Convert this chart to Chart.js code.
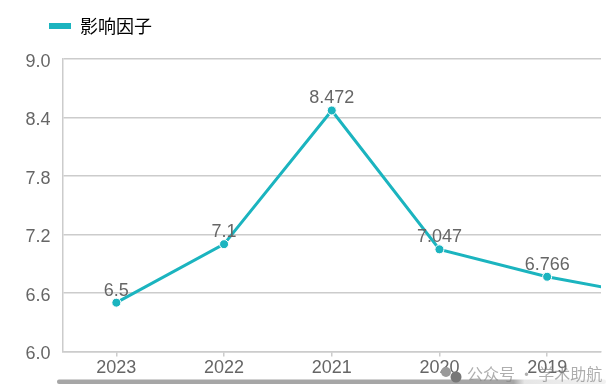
<!DOCTYPE html>
<html>
<head>
<meta charset="utf-8">
<script src="https://cdn.jsdelivr.net/npm/chart.js@4/dist/chart.umd.min.js"></script>
<style>
html, body { margin: 0; padding: 0; background: #fff; }
#box { width: 614px; height: 390px; position: relative; }
</style>
</head>
<body>
<div id="box"><canvas id="chart"></canvas></div>
<script>
const years = ['2023', '2022', '2021', '2020', '2019', '2018'];
const impact = [6.5, 7.1, 8.472, 7.047, 6.766, 6.56];
const seriesName = '影响因子';
const watermark = '公众号 · 学术助航';

const teal = '#1bb4bf';
const labelFont = '18px "Liberation Sans", Arial, sans-serif';

// value labels above the points (the last point is off the chart)
const valueLabels = {
    id: 'valueLabels',
    afterLayout(chart) {
        // legend sits higher and further right than the library puts it
        chart.legend.left = 18;
        chart.legend.top = -14;
    },
    afterDatasetsDraw(chart) {
        const ctx = chart.ctx;
        const points = chart.getDatasetMeta(0).data;
        ctx.save();
        ctx.font = labelFont;
        ctx.fillStyle = '#666';
        ctx.textAlign = 'center';
        ctx.textBaseline = 'middle';
        impact.forEach((v, i) => {
            if (i > 4) return;
            ctx.fillText(String(v), points[i].x, points[i].y - 12);
        });
        ctx.restore();
    }
};

// grey scroll bar and the watermark along the bottom edge
const footer = {
    id: 'footer',
    afterDraw(chart) {
        const ctx = chart.ctx;
        ctx.save();
        const grad = ctx.createLinearGradient(57, 0, 607, 0);
        grad.addColorStop(0, '#a6a6a6');
        grad.addColorStop(0.83, '#a6a6a6');
        grad.addColorStop(0.85, '#e6e6e6');
        grad.addColorStop(1, '#f2f2f2');
        ctx.fillStyle = grad;
        ctx.beginPath();
        ctx.roundRect(57, 379.5, 549, 4.5, 2);
        ctx.fill();

        ctx.fillStyle = '#9a9a9a';
        ctx.beginPath();
        ctx.arc(446, 372, 5, 0, Math.PI * 2);
        ctx.fill();
        ctx.fillStyle = '#777';
        ctx.beginPath();
        ctx.arc(456, 377, 5.5, 0, Math.PI * 2);
        ctx.fill();

        ctx.font = '16px "Noto Sans CJK SC", sans-serif';
        ctx.fillStyle = 'rgba(130,130,130,0.65)';
        ctx.textAlign = 'left';
        ctx.textBaseline = 'middle';
        ctx.fillText(watermark, 467, 374);
        ctx.restore();
    }
};

new Chart(document.getElementById('chart'), {
    type: 'line',
    plugins: [valueLabels, footer],
    data: {
        labels: years,
        datasets: [{
            label: seriesName,
            data: impact,
            borderColor: teal,
            backgroundColor: teal,
            borderWidth: 3,
            tension: 0,
            clip: 0,
            pointRadius: 4.5,
            pointBorderColor: '#fff',
            pointBorderWidth: 1,
            pointBackgroundColor: teal
        }]
    },
    options: {
        responsive: true,
        maintainAspectRatio: false,
        animation: false,
        layout: { padding: { left: 0, right: 13, top: 0, bottom: 10 } },
        plugins: {
            tooltip: { enabled: false },
            legend: {
                position: 'top',
                align: 'start',
                labels: {
                    boxWidth: 22,
                    boxHeight: 6,
                    padding: 31,
                    color: '#444',
                    font: { family: '"Noto Sans CJK SC", sans-serif', size: 18 },
                    generateLabels: () => [{ text: seriesName, fillStyle: teal, strokeStyle: teal, lineWidth: 0 }]
                }
            }
        },
        scales: {
            x: {
                offset: true,
                // cut off here rather than with options.max, so the line still runs on to 2018
                afterDataLimits(scale) { scale.max = 4; },
                grid: { drawOnChartArea: false, color: '#ccc', tickLength: 5, lineWidth: 1.5 },
                border: { color: '#ccc', width: 1.5 },
                ticks: {
                    color: '#666',
                    padding: 1,
                    maxRotation: 0,
                    font: { family: '"Liberation Sans", Arial, sans-serif', size: 18 }
                }
            },
            y: {
                min: 6,
                max: 9,
                afterFit(scale) { scale.width = 62.5; },
                grid: { color: '#ccc', lineWidth: 1.5, drawTicks: false },
                border: { color: '#ccc', width: 1.5 },
                ticks: {
                    stepSize: 0.6,
                    color: '#666',
                    padding: 12,
                    labelOffset: 3,
                    font: { family: '"Liberation Sans", Arial, sans-serif', size: 18 },
                    callback: (v) => Number(v).toFixed(1)
                }
            }
        }
    }
});
</script>
</body>
</html>
